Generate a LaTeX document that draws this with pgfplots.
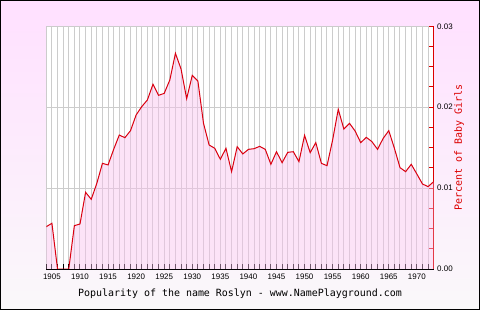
\documentclass[border=0pt]{standalone}
\usepackage{fontspec}
\setmainfont{Liberation Sans}
\newfontfamily\monofont{DejaVu Sans Mono}
\usepackage{pgfplots}
\usepackage{pgfplotstable}
\pgfplotsset{compat=1.18}

\definecolor{bgtop}{RGB}{255,224,255}
\definecolor{bgbot}{RGB}{250,248,250}
\definecolor{gridgray}{RGB}{204,204,204}
\definecolor{linered}{RGB}{218,0,16}
\definecolor{fillpink}{RGB}{250,195,238}
\definecolor{axred}{RGB}{220,0,0}

% share of baby girls named Roslyn, by year
\pgfplotstableread{
year value
1904 0.00523
1905 0.00565
1906 0.0
1907 0.0
1908 0.0
1909 0.00536
1910 0.00556
1911 0.00948
1912 0.00861
1913 0.01059
1914 0.01306
1915 0.01286
1916 0.01479
1917 0.01656
1918 0.01623
1919 0.01710
1920 0.01904
1921 0.02007
1922 0.02089
1923 0.02283
1924 0.02147
1925 0.02171
1926 0.02336
1927 0.02666
1928 0.02472
1929 0.02105
1930 0.02394
1931 0.02324
1932 0.01801
1933 0.01533
1934 0.01492
1935 0.01356
1936 0.01492
1937 0.01203
1938 0.01512
1939 0.01422
1940 0.01479
1941 0.01487
1942 0.01516
1943 0.01479
1944 0.01294
1945 0.01450
1946 0.01314
1947 0.01442
1948 0.01450
1949 0.01327
1950 0.01652
1951 0.01438
1952 0.01562
1953 0.01306
1954 0.01277
1955 0.01595
1956 0.01974
1957 0.01730
1958 0.01801
1959 0.01706
1960 0.01562
1961 0.01627
1962 0.01574
1963 0.01479
1964 0.01615
1965 0.01710
1966 0.01492
1967 0.01253
1968 0.01203
1969 0.01294
1970 0.01174
1971 0.01051
1972 0.01018
1973 0.01080
}\roslyn

\begin{document}
\begin{tikzpicture}
\shade[top color=bgtop,bottom color=bgbot] (0,0) rectangle (480bp,310bp);
\draw[black,line width=1bp] (0.5bp,0.5bp) rectangle (479.5bp,309.5bp);
\begin{axis}[
    at={(46.3bp,41bp)}, anchor=south west,
    scale only axis, width=387.4bp, height=242.7bp,
    xmin=1904, xmax=1973, ymin=0, ymax=0.03,
    axis x line*=bottom, axis y line*=right,
    axis background/.style={fill=white},
    x axis line style={black,line width=1bp},
    y axis line style={axred,line width=1bp},
    xtick={1905,1910,...,1970},
    minor xtick={1904,...,1973},
    ytick={0,0.01,0.02,0.03},
    minor y tick num=3,
    xmajorgrids=true, xminorgrids=true, ymajorgrids=true,
    grid style={gridgray,line width=1bp},
    minor grid style={gridgray,line width=1bp},
    tick align=inside,
    major tick length=5bp, minor tick length=5bp,
    every x tick/.append style={black,line width=1bp},
    every y tick/.append style={axred,line width=1bp},
    /pgf/number format/assume math mode=true,
    xticklabel style={font=\fontsize{8}{9}\selectfont,/pgf/number format/1000 sep={},yshift=-1bp},
    yticklabel style={font=\fontsize{8}{9}\selectfont,
        /pgf/number format/.cd,fixed,fixed zerofill,precision=2},
    scaled y ticks=false,
    xlabel={Popularity of the name Roslyn - www.NamePlayground.com},
    xlabel style={font=\monofont\fontsize{10}{12}\selectfont,
        at={(axis description cs:0.5,0)}, anchor=center, yshift=-25bp},
    ylabel={Percent of Baby Girls},
    ylabel style={font=\monofont\fontsize{10}{12}\selectfont, text=axred,
        at={(axis description cs:1.0653,0.5)}, anchor=center},
]
\addplot[draw=none, fill=fillpink, fill opacity=0.45] table[x=year,y=value]{\roslyn} \closedcycle;
\addplot[linered, line width=1bp, mark=none] table[x=year,y=value]{\roslyn};
\end{axis}
\end{tikzpicture}
\end{document}
